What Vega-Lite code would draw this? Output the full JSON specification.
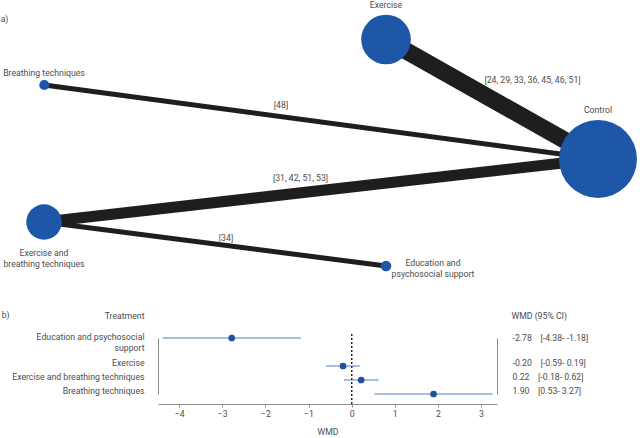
{
  "$schema": "https://vega.github.io/schema/vega-lite/v6.json",
  "padding": 0,
  "background": "white",
  "spacing": 11,
  "config": {
    "font": "Roboto",
    "view": {"stroke": null},
    "text": {"fontSize": 8.7, "color": "#4d4d4d", "font": "Roboto"},
    "axis": {
      "labelFont": "Roboto", "titleFont": "Roboto",
      "labelFontSize": 8.7, "titleFontSize": 8.7, "titleFontWeight": "normal",
      "labelColor": "#4d4d4d", "titleColor": "#4d4d4d",
      "domainColor": "#8c8c8c", "tickColor": "#8c8c8c", "grid": false
    }
  },
  "datasets": {
    "nodes": [
      {"node": "Control", "x": 59.7, "y": 15.9, "weight": 44, "label": "Control", "lx": 59.7, "ly": 11.0},
      {"node": "Exercise", "x": 38.5, "y": 3.95, "weight": 28, "label": "Exercise", "lx": 38.5, "ly": 0.5},
      {"node": "Breathing techniques", "x": 4.33, "y": 8.5, "weight": 5.7, "label": "Breathing techniques", "lx": 4.3, "ly": 7.27},
      {"node": "Exercise and breathing techniques", "x": 4.3, "y": 22.2, "weight": 20, "label": "Exercise and\nbreathing techniques", "lx": 4.3, "ly": 25.3},
      {"node": "Education and psychosocial support", "x": 38.5, "y": 26.6, "weight": 6, "label": "Education and\npsychosocial support", "lx": 43.2, "ly": 26.33}
    ],
    "edges": [
      {"from": "Exercise", "to": "Control", "studies": 7, "refs": "[24, 29, 33, 36, 45, 46, 51]", "x": 38.5, "y": 3.95, "x2": 59.7, "y2": 15.9, "lx": 53.15, "ly": 8.0},
      {"from": "Breathing techniques", "to": "Control", "studies": 1, "refs": "[48]", "x": 4.33, "y": 8.5, "x2": 59.7, "y2": 15.9, "lx": 28.0, "ly": 10.5},
      {"from": "Exercise and breathing techniques", "to": "Control", "studies": 4, "refs": "[31, 42, 51, 53]", "x": 4.3, "y": 22.2, "x2": 59.7, "y2": 15.9, "lx": 29.95, "ly": 17.8},
      {"from": "Exercise and breathing techniques", "to": "Education and psychosocial support", "studies": 1, "refs": "[34]", "x": 4.3, "y": 22.2, "x2": 38.5, "y2": 26.6, "lx": 22.5, "ly": 23.8}
    ],
    "panels": [
      {"panel": "a)", "px": 0.35, "py": 1.93}
    ],
    "forest": [
      {"treatment": "Education and psychosocial support", "wmd": -2.78, "lo": -4.38, "hi": -1.18, "ci": "-2.78\u00a0\u00a0\u00a0\u00a0[-4.38- -1.18]"},
      {"treatment": "Exercise", "wmd": -0.20, "lo": -0.59, "hi": 0.19, "ci": "-0.20\u00a0\u00a0\u00a0\u00a0[-0.59- 0.19]"},
      {"treatment": "Exercise and breathing techniques", "wmd": 0.22, "lo": -0.18, "hi": 0.62, "ci": "\u00a00.22\u00a0\u00a0\u00a0\u00a0[-0.18- 0.62]"},
      {"treatment": "Breathing techniques", "wmd": 1.90, "lo": 0.53, "hi": 3.27, "ci": "\u00a01.90\u00a0\u00a0\u00a0\u00a0[0.53- 3.27]"}
    ]
  },
  "vconcat": [
    {
      "width": 483,
      "height": 300,
      "layer": [
        {
          "data": {"name": "edges"},
          "mark": {"type": "rule", "color": "#1e1e1e", "strokeCap": "butt"},
          "encoding": {
            "x": {"field": "x", "type": "quantitative", "scale": {"domain": [15.7, 64], "nice": false, "zero": false}, "axis": null},
            "y": {"field": "y", "type": "quantitative", "scale": {"domain": [0, 30], "nice": false, "zero": false, "reverse": true}, "axis": null},
            "x2": {"field": "x2"},
            "y2": {"field": "y2"},
            "strokeWidth": {"field": "studies", "type": "quantitative", "scale": {"domain": [1, 7], "range": [5, 17]}, "legend": null}
          }
        },
        {
          "data": {"name": "edges"},
          "mark": {"type": "text", "baseline": "middle", "align": "center"},
          "encoding": {
            "x": {"field": "lx", "type": "quantitative"},
            "y": {"field": "ly", "type": "quantitative"},
            "text": {"field": "refs"}
          }
        },
        {
          "data": {"name": "nodes"},
          "mark": {"type": "circle", "color": "#1f57a8", "opacity": 1},
          "encoding": {
            "x": {"field": "x", "type": "quantitative"},
            "y": {"field": "y", "type": "quantitative"},
            "size": {"field": "weight", "type": "quantitative", "scale": {"type": "pow", "exponent": 2, "domain": [0, 44], "range": [0, 6082]}, "legend": null}
          }
        },
        {
          "data": {"name": "nodes"},
          "mark": {"type": "text", "baseline": "middle", "align": "center", "lineBreak": "\n", "lineHeight": 11},
          "encoding": {
            "x": {"field": "lx", "type": "quantitative"},
            "y": {"field": "ly", "type": "quantitative"},
            "text": {"field": "label"}
          }
        },
        {
          "data": {"name": "panels"},
          "mark": {"type": "text", "baseline": "middle", "align": "center"},
          "encoding": {
            "x": {"field": "px", "type": "quantitative"},
            "y": {"field": "py", "type": "quantitative"},
            "text": {"field": "panel"}
          }
        }
      ]
    },
    {
      "width": 339,
      "height": 70,
      "data": {"name": "forest"},
      "title": {"text": "b)", "anchor": "start", "frame": "bounds", "dx": -10, "offset": -9, "fontSize": 8.7, "fontWeight": "normal", "color": "#4d4d4d", "font": "Roboto"},
      "layer": [
        {
          "mark": {"type": "rule", "color": "#222222", "strokeDash": [2, 2], "strokeWidth": 1},
          "encoding": {
            "x": {"datum": 0, "type": "quantitative"}
          }
        },
        {
          "mark": {"type": "rule", "color": "#4d7ebf", "strokeWidth": 1.2},
          "encoding": {
            "x": {"field": "lo", "type": "quantitative", "scale": {"domain": [-4.49, 3.37], "nice": false, "zero": false},
                  "axis": {"values": [-4, -3, -2, -1, 0, 1, 2, 3], "tickSize": 3, "labelPadding": 2.5, "title": "WMD", "titlePadding": 9}},
            "x2": {"field": "hi"},
            "y": {"field": "treatment", "type": "nominal",
                  "scale": {"type": "point", "padding": 0, "domain": ["Education and psychosocial support", "", "Exercise", "Exercise and breathing techniques", "Breathing techniques"], "range": [4, 60]},
                  "axis": {"orient": "left", "ticks": false, "labelPadding": 14, "labelAlign": "right",
                           "labelExpr": "datum.value == 'Education and psychosocial support' ? ['Education and psychosocial', 'support'] : datum.value",
                           "labelOffset": {"condition": {"test": "datum.value == 'Education and psychosocial support'", "value": -2}, "value": -4},
                           "labelLineHeight": 11,
                           "title": "Treatment", "titleAngle": 0, "titleAlign": "right", "titleBaseline": "middle", "titleX": -14, "titleY": -19}}
          }
        },
        {
          "mark": {"type": "circle", "color": "#1f4f9f", "opacity": 1, "size": 45},
          "encoding": {
            "x": {"field": "wmd", "type": "quantitative"},
            "y": {"field": "ci", "type": "nominal",
                  "scale": {"type": "point", "padding": 0, "domain": ["-2.78\u00a0\u00a0\u00a0\u00a0[-4.38- -1.18]", "", "-0.20\u00a0\u00a0\u00a0\u00a0[-0.59- 0.19]", "\u00a00.22\u00a0\u00a0\u00a0\u00a0[-0.18- 0.62]", "\u00a01.90\u00a0\u00a0\u00a0\u00a0[0.53- 3.27]"], "range": [4, 60]},
                  "axis": {"orient": "right", "ticks": false, "labelPadding": 15, "labelAlign": "left",
                           "labelOffset": {"condition": {"test": "datum.index == 0", "value": -1}, "value": -4},
                           "title": "WMD (95% CI)", "titleAngle": 0, "titleAlign": "left", "titleBaseline": "middle", "titleX": 14, "titleY": -19}}
          }
        }
      ],
      "resolve": {"scale": {"y": "independent"}, "axis": {"y": "independent"}}
    }
  ]
}
